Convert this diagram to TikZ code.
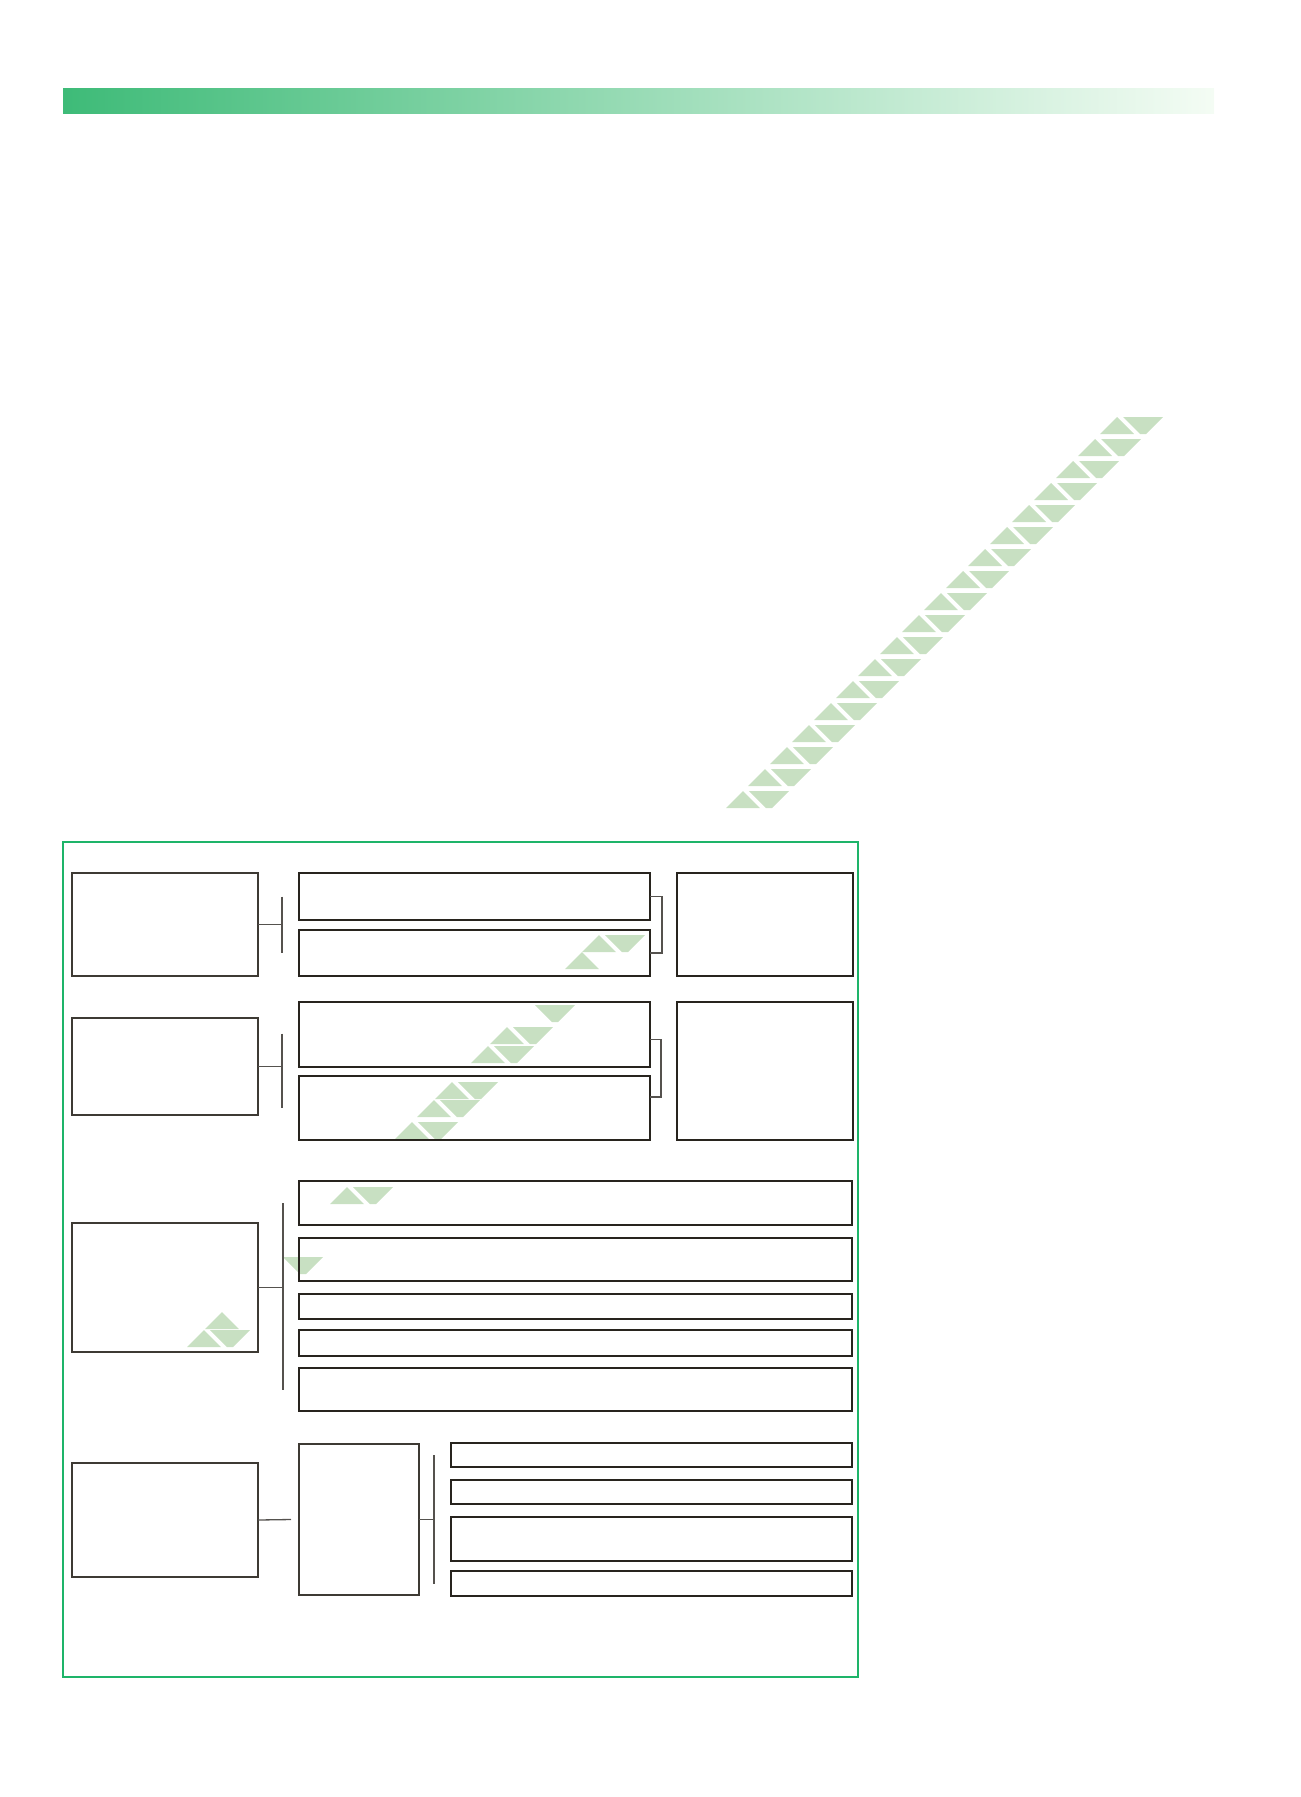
\documentclass[tikz,border=0pt]{standalone}
\usepackage{tikz}

\definecolor{barleft}{RGB}{62,187,120}
\definecolor{barright}{RGB}{244,252,244}
\definecolor{framegreen}{RGB}{30,180,105}
\definecolor{wmgreen}{RGB}{200,224,194}
\definecolor{thinline}{RGB}{62,58,52}
\definecolor{thickline}{RGB}{40,36,30}
\definecolor{linkline}{RGB}{85,82,78}

\tikzset{
  leftbox/.style={draw=thinline, line width=1.4pt, anchor=north west, inner sep=0pt, outer sep=0pt},
  rightbox/.style={draw=thickline, line width=2.3pt, anchor=north west, inner sep=0pt, outer sep=0pt},
  link/.style={draw=linkline, line width=1.3pt},
  wmark/.style={fill=wmgreen}
}

% one row of the diagonal band: a triangle up and a piece pointing down
\newcommand{\wmup}[1]{\fill[wmark] ({1517-#1},{#1+17}) -- ++(34,0) -- ++(-17,-17) -- cycle;}
\newcommand{\wmdown}[1]{\fill[wmark] ({1540-#1},#1) -- ++(40,0) -- ++(-17,17) -- ++(-6,0) -- cycle;}

\begin{document}
\begin{tikzpicture}[x=1pt, y=-1pt]
    \useasboundingbox (0,0) rectangle (1301,1797);
    \shade[left color=barleft, right color=barright] (63,88) rectangle (1214,113);

    % diagonal band
    \foreach \k in {0,...,17}{
      \pgfmathsetmacro\ry{417+22*\k}
      \wmup{\ry}
      \wmdown{\ry}
      }
    \foreach \ry in {935,1027,1046,1082,1100,1122,1187,1330}{
      \wmup{\ry}
      \wmdown{\ry}
      }
    \foreach \ry in {952,1312}{\wmup{\ry}}
    \foreach \ry in {1005,1257}{\wmdown{\ry}}

    \draw[framegreen, line width=2.2pt] (63,842) rectangle (858,1677);

    \node[leftbox, minimum width=186pt, minimum height=103pt] (a1) at (72,873) {};
    \node[leftbox, minimum width=186pt, minimum height=97pt] (a2) at (72,1018) {};
    \node[leftbox, minimum width=186pt, minimum height=129pt] (a3) at (72,1223) {};
    \node[leftbox, minimum width=186pt, minimum height=114pt] (a4) at (72,1463) {};

    \node[rightbox, minimum width=351pt, minimum height=47pt] (b1) at (299,873) {};
    \node[rightbox, minimum width=351pt, minimum height=46pt] (b2) at (299,930) {};
    \node[rightbox, minimum width=351pt, minimum height=65pt] (b3) at (299,1002) {};
    \node[rightbox, minimum width=351pt, minimum height=64pt] (b4) at (299,1076) {};
    \node[rightbox, minimum width=176pt, minimum height=103pt] (c1) at (677,873) {};
    \node[rightbox, minimum width=176pt, minimum height=138pt] (c2) at (677,1002) {};

    \node[rightbox, minimum width=553pt, minimum height=44pt] (d1) at (299,1181) {};
    \node[rightbox, minimum width=553pt, minimum height=43pt] (d2) at (299,1238) {};
    \node[rightbox, minimum width=553pt, minimum height=25pt] (d3) at (299,1294) {};
    \node[rightbox, minimum width=553pt, minimum height=26pt] (d4) at (299,1330) {};
    \node[rightbox, minimum width=553pt, minimum height=43pt] (d5) at (299,1368) {};

    \node[leftbox, minimum width=120pt, minimum height=151pt] (e) at (299,1444) {};
    \node[rightbox, minimum width=401pt, minimum height=24pt] (f1) at (451,1443) {};
    \node[rightbox, minimum width=401pt, minimum height=24pt] (f2) at (451,1480) {};
    \node[rightbox, minimum width=401pt, minimum height=44pt] (f3) at (451,1517) {};
    \node[rightbox, minimum width=401pt, minimum height=25pt] (f4) at (451,1571) {};

    % connectors
    \draw[link] (a1.east) -- ++(24,0) coordinate (j1);
    \draw[link] (j1 |- b1.center) -- (j1 |- b2.center);
    \draw[link] (a2.east) -- ++(24,0) coordinate (j2);
    \draw[link] ([yshift=1pt]j2 |- b3.center) -- (j2 |- b4.center);
    \draw[link] (a3.east) -- ++(25,0) coordinate (j3);
    \draw[link] (j3 |- d1.center) -- (j3 |- d5.center);
    \draw[link] (a4.east) -- ([xshift=-8pt]e.west);
    \draw[link] (e.east) -- ++(15,0) coordinate (j4);
    \draw[link] (j4 |- f1.center) -- (j4 |- f4.center);

    \draw[link] (b1.east) -- ++(12,0) |- (b2.east);
    \draw[link] ([yshift=-5pt]b3.east) -- ++(11,0) |- ([yshift=11pt]b4.east);
\end{tikzpicture}
\end{document}
